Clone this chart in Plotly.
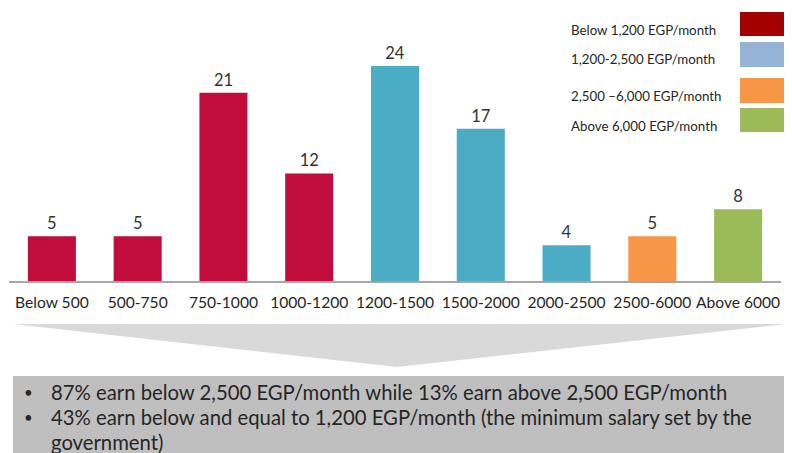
import plotly.graph_objects as go

# ---- data ----
categories = ["Below 500", "500-750", "750-1000", "1000-1200", "1200-1500",
              "1500-2000", "2000-2500", "2500-6000", "Above 6000"]
values = [5, 5, 21, 12, 24, 17, 4, 5, 8]
bar_colors = ["#C00D3C", "#C00D3C", "#C00D3C", "#C00D3C", "#4BACC6",
              "#4BACC6", "#4BACC6", "#F79646", "#9BBB59"]

legend_labels = ["Below 1,200 EGP/month", "1,200-2,500 EGP/month",
                 "2,500 \u20136,000 EGP/month", "Above 6,000 EGP/month"]
legend_colors = ["#A50000", "#95B3D7", "#F79646", "#9BBB59"]

bullet_lines = [
    "87% earn below 2,500 EGP/month while 13% earn above 2,500 EGP/month",
    "43% earn below and equal to 1,200 EGP/month (the minimum salary set by the",
]
bullet_continuation = "government)"

FONT = "Lato, 'Open Sans', sans-serif"
OFF = 8                 # page body margin offset
W, H = 792 - OFF, 453 - OFF
PX0, PX1 = 9 - OFF, 781 - OFF      # plot area left/right (figure px)
PY_TOP, PY_BOT = 0, 281 - OFF      # plot area top/bottom (figure px)
PX_PER_UNIT = 8.96


def px(x):
    """reference screen x -> paper"""
    return (x - OFF - PX0) / (PX1 - PX0)


def py(y):
    """reference screen y -> paper"""
    return (PY_BOT - (y - OFF)) / (PY_BOT - PY_TOP)


fig = go.Figure()
fig.add_trace(go.Bar(
    x=categories, y=values,
    marker=dict(color=bar_colors, line=dict(width=0)),
    text=[str(v) for v in values], textposition="outside",
    textfont=dict(family=FONT, size=16.5, color="#333333"),
    cliponaxis=False, showlegend=False, hoverinfo="skip",
))

shapes = []
annotations = []

# legend boxes + labels
box_tops = [12, 42, 78, 108]
box_bots = [36, 67, 103, 132]
text_ys = [30, 59, 96, 126]
for lab, col, t, b, ty in zip(legend_labels, legend_colors, box_tops, box_bots, text_ys):
    shapes.append(dict(type="rect", xref="paper", yref="paper",
                       x0=px(740), x1=px(784), y0=py(b), y1=py(t),
                       fillcolor=col, line=dict(width=0), layer="above"))
    annotations.append(dict(xref="paper", yref="paper", x=px(569), y=py(ty),
                            xanchor="left", yanchor="middle", showarrow=False,
                            text=lab, font=dict(family=FONT, size=13.3, color="#262626")))

# chevron
shapes.append(dict(type="path", xref="paper", yref="paper",
                   path=f"M {px(13)},{py(324)} L {px(787)},{py(324)} L {px(397)},{py(367)} Z",
                   fillcolor="#D9D9D9", line=dict(width=0), layer="below"))
# text box
shapes.append(dict(type="rect", xref="paper", yref="paper",
                   x0=px(13), x1=px(792), y0=py(453), y1=py(376),
                   fillcolor="#BFBFBF", line=dict(width=0), layer="below"))

line_ys = [392, 417]
for txt, ly in zip(bullet_lines, line_ys):
    annotations.append(dict(xref="paper", yref="paper", x=px(22), y=py(ly),
                            xanchor="left", yanchor="middle", showarrow=False,
                            text="\u2022", font=dict(family=FONT, size=15, color="#262626")))
    annotations.append(dict(xref="paper", yref="paper", x=px(49), y=py(ly),
                            xanchor="left", yanchor="middle", showarrow=False,
                            text=txt, font=dict(family=FONT, size=20.3, color="#262626")))
annotations.append(dict(xref="paper", yref="paper", x=px(49), y=py(442),
                        xanchor="left", yanchor="middle", showarrow=False,
                        text=bullet_continuation, font=dict(family=FONT, size=20.3, color="#262626")))

fig.update_layout(
    width=W, height=H,
    margin=dict(l=PX0, r=W - PX1, t=PY_TOP, b=H - PY_BOT, pad=0),
    paper_bgcolor="white", plot_bgcolor="white",
    bargap=0.44,
    shapes=shapes, annotations=annotations,
    xaxis=dict(showline=True, linecolor="#A6A6A6", linewidth=1.5,
               showgrid=False, zeroline=False, ticks="",
               ticklabelstandoff=7,
               tickfont=dict(family=FONT, size=15.6, color="#262626")),
    yaxis=dict(visible=False, range=[0, (PY_BOT - PY_TOP) / PX_PER_UNIT]),
    font=dict(family=FONT),
)

fig.write_html("out.html", config={"displayModeBar": False})
